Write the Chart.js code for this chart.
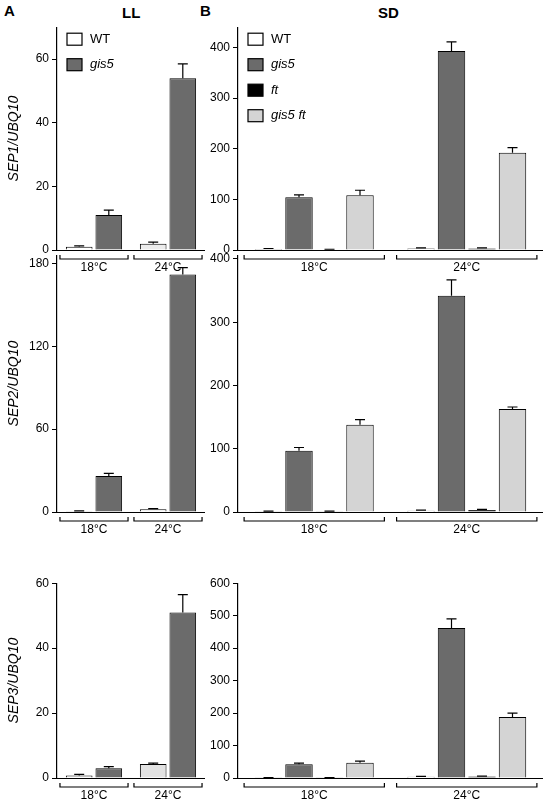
<!DOCTYPE html><html><head><meta charset="utf-8">
<script src="https://cdn.jsdelivr.net/npm/chart.js@4"></script>
<style>body{margin:0;width:545px;height:800px;background:#fff;position:relative;font-family:"Liberation Sans",Arial,sans-serif}
.p{position:absolute}.h{position:absolute;font-weight:bold;font-size:15px}</style></head><body>
<div class="h" style="left:4px;top:2px">A</div><div class="h" style="left:122px;top:4px">LL</div>
<div class="h" style="left:200px;top:2px">B</div><div class="h" style="left:378px;top:4px">SD</div>
<script>
const temps=['18°C','24°C'];
const seriesA=['WT','gis5'];
const seriesB=['WT','gis5','ft','gis5 ft'];
const yTitles=['SEP1/UBQ10','SEP2/UBQ10','SEP3/UBQ10'];
const A1=[[1,2],[11,54]], A1e=[[0.3,0.5],[1.5,4.5]];
const A2=[[0.5,2],[26,172]], A2e=[[0.3,0.5],[2,5]];
const A3=[[0.8,4.3],[3,51]], A3e=[[0.3,0.3],[0.5,5.5]];
const B1=[[2,3],[104,393],[1,3],[108,192]], B1e=[[1,1],[5,18],[0.5,1],[10,10]];
const B2=[[1,2],[97,342],[1,3],[138,163]], B2e=[[0.5,1],[5,25],[0.5,1],[8,3]];
const B3=[[1,4],[42,462],[1,5],[47,188]], B3e=[[0.5,1],[4,28],[0.5,1],[5,12]];
const yMaxA=[70,186,60], yMaxB=[440,406,600];
const tickStepA=[20,60,20], tickStepB=[100,100,100];
const colors={'WT':'#ffffff','gis5':'#6b6b6b','ft':'#000000','gis5 ft':'#d4d4d4'};
const rows=[[25,250],[253,512],[581,778]];

function makePanel(left,width,row,names,vals,errs,ymax,step,title,legend,idx){
  const [top,bottom]=rows[row];
  const d=document.createElement('div');d.className='p';
  d.style.left=left+'px';d.style.top=(top-8)+'px';d.style.width=width+'px';d.style.height=(bottom-top+8+34)+'px';
  const c=document.createElement('canvas');d.appendChild(c);document.body.appendChild(d);
  const yw=title?57:48;
  const datasets=names.map((n,i)=>({label:n,data:vals[i],err:errs[i],
    backgroundColor:(idx===2&&n==='WT')?['#ffffff','#e2e2e2']:((idx===0&&n==='WT')?['#ffffff','#ececec']:colors[n]),
    borderColor:'#000',borderWidth:1}));
  const plug={id:'x',afterDatasetsDraw(ch){
    const ctx=ch.ctx,ys=ch.scales.y,xs=ch.scales.x,ca=ch.chartArea;
    ctx.save();ctx.strokeStyle='#000';ctx.lineWidth=1.2;
    ch.data.datasets.forEach((ds,i)=>{const m=ch.getDatasetMeta(i);m.data.forEach((b,j)=>{
      const e=ds.err[j];if(!e)return;const x=b.x,y0=ys.getPixelForValue(ds.data[j]),y1=ys.getPixelForValue(ds.data[j]+e);
      ctx.beginPath();ctx.moveTo(x,y0);ctx.lineTo(x,y1);ctx.moveTo(x-5,y1);ctx.lineTo(x+5,y1);ctx.stroke();});});
    ctx.beginPath();ctx.moveTo(ca.left,ca.bottom+0.5);ctx.lineTo(ca.right,ca.bottom+0.5);ctx.stroke();
    ctx.font='12px "Liberation Sans",Arial';ctx.textAlign='center';ctx.textBaseline='top';ctx.fillStyle='#000';
    const w=(ca.right-ca.left)/temps.length;
    temps.forEach((t,j)=>{const cx=xs.getPixelForValue(j),x0=cx-w*0.46,x1=cx+w*0.46,yb=ca.bottom+9;
      ctx.beginPath();ctx.moveTo(x0,yb-4);ctx.lineTo(x0,yb);ctx.lineTo(x1,yb);ctx.lineTo(x1,yb-4);ctx.stroke();
      ctx.fillText(t,cx,yb+3);});
    if(title){ctx.save();ctx.translate(14,(ca.top+ca.bottom)/2);ctx.rotate(-Math.PI/2);
      ctx.font='italic 14px "Liberation Sans",Arial';ctx.textBaseline='middle';ctx.fillText(title,0,0);ctx.restore();}
    if(legend){ctx.textAlign='left';ctx.textBaseline='middle';
      names.forEach((n,i)=>{const x=ca.left+10,y=ca.top+12+i*25.5;
        ctx.fillStyle=colors[n];ctx.fillRect(x,y-6,15,12);ctx.strokeRect(x,y-6,15,12);
        ctx.fillStyle='#000';ctx.font=(n==='WT'?'':'italic ')+'13px "Liberation Sans",Arial';ctx.fillText(n,x+23,y);});}
    ctx.restore();}};
  new Chart(c,{type:'bar',data:{labels:temps,datasets},plugins:[plug],
    options:{responsive:true,maintainAspectRatio:false,animation:false,
      layout:{padding:{top:8,bottom:34,right:2,left:0}},
      plugins:{legend:{display:false},tooltip:{enabled:false}},
      scales:{x:{display:false,categoryPercentage:0.88,barPercentage:0.95},
        y:{min:0,max:ymax,afterFit(s){s.width=yw;},
          afterBuildTicks(s){const t=[];for(let v=0;v<=ymax+1e-9;v+=step)t.push({value:v});s.ticks=t;},
          ticks:{color:'#000',font:{size:12,family:'"Liberation Sans",Arial'},padding:3},
          grid:{drawOnChartArea:false,tickLength:5,color:'#000'},border:{color:'#000',width:1.2}}}}});
}
const AV=[A1,A2,A3],AE=[A1e,A2e,A3e],BV=[B1,B2,B3],BE=[B1e,B2e,B3e];
for(let r=0;r<3;r++){
  makePanel(0,207,r,seriesA,AV[r],AE[r],yMaxA[r],tickStepA[r],yTitles[r],r===0,r);
  makePanel(190,355,r,seriesB,BV[r],BE[r],yMaxB[r],tickStepB[r],null,r===0,r+3);
}
</script></body></html>
